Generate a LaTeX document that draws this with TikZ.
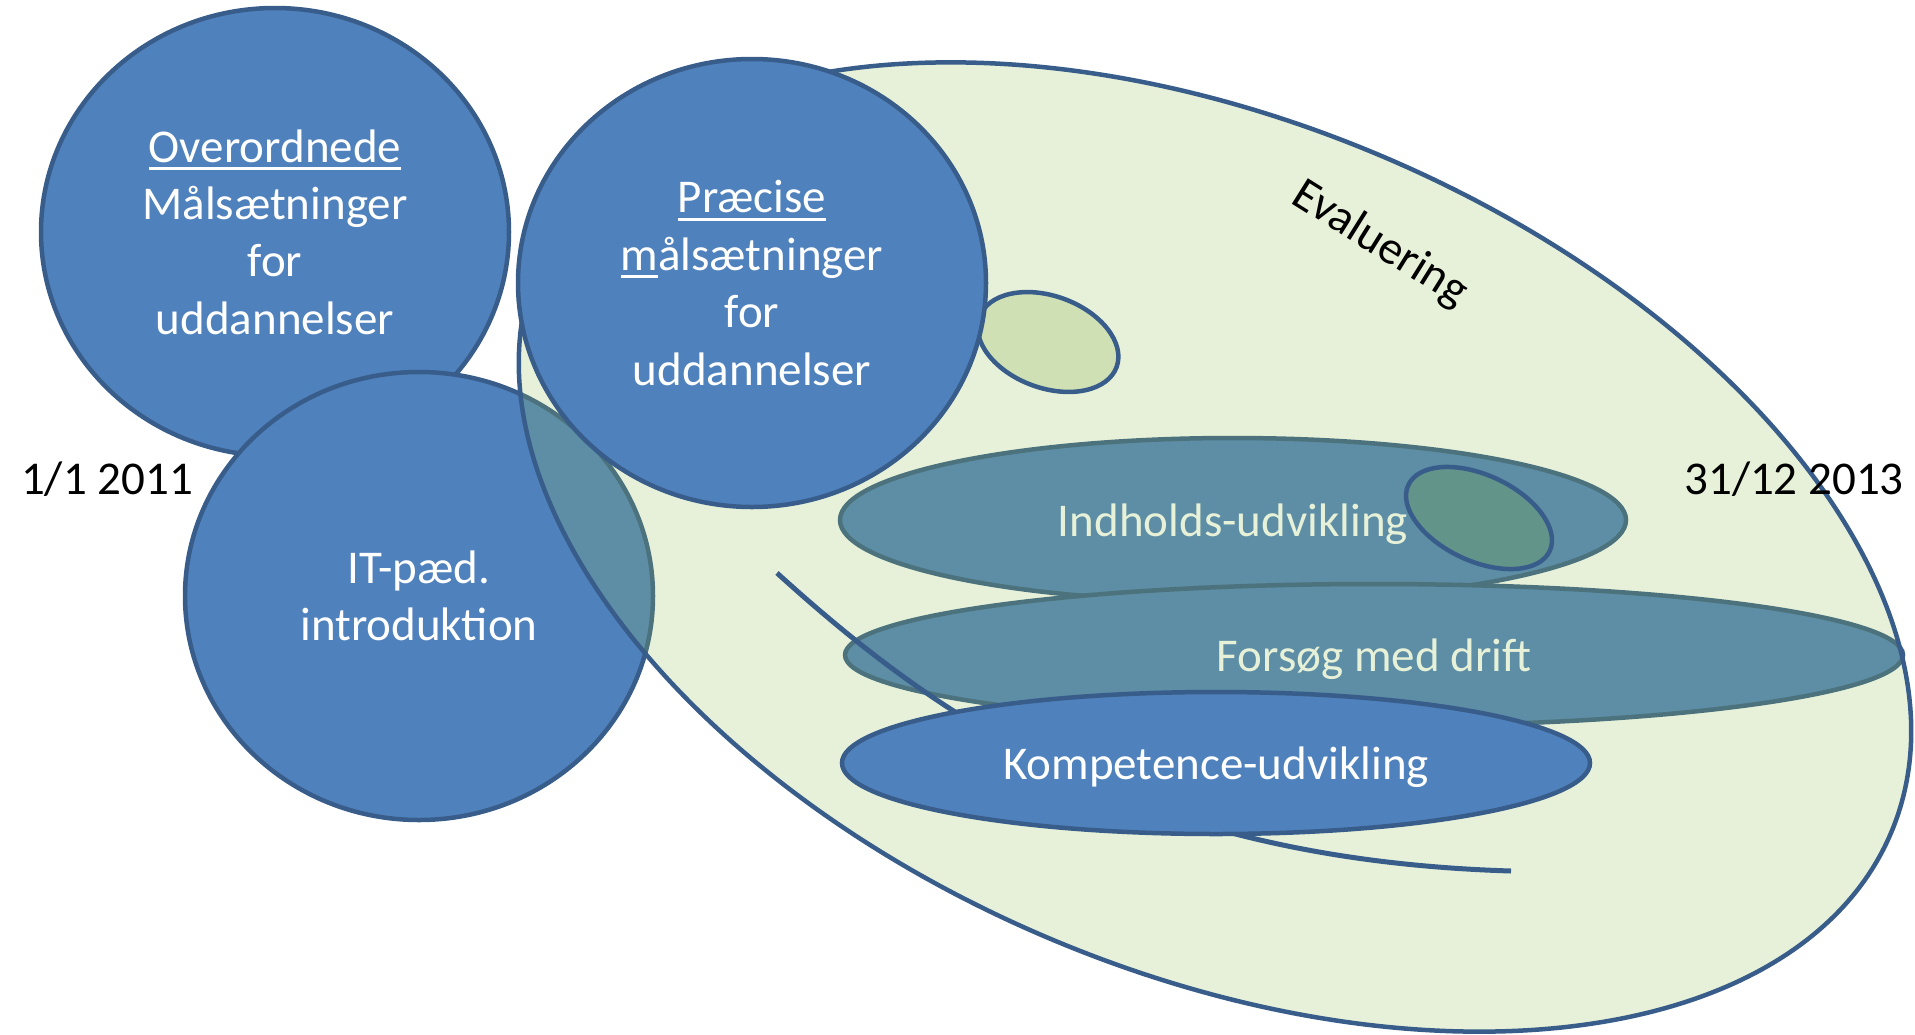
\documentclass[tikz,border=0pt]{standalone}
\usepackage{fontspec}
\setmainfont{Carlito}
\usetikzlibrary{shapes.geometric}
\definecolor{fillblue}{HTML}{4F81BD}
\definecolor{edgeblue}{HTML}{385D8A}
\definecolor{olive}{HTML}{92C050}
\definecolor{paleA}{HTML}{CFE0B5}
\definecolor{tealB}{HTML}{62948A}
\newcommand{\myul}[1]{\setbox0=\hbox{#1}\rlap{\rule[-8pt]{\wd0}{3pt}}#1}
\begin{document}
\begin{tikzpicture}[x=1pt,y=-1pt,
  bigtxt/.style={font=\fontsize{47}{57.4}\selectfont},
  blob/.style={ellipse, inner sep=0pt, draw=edgeblue, line width=4.5pt, fill=fillblue, text=white, align=center, bigtxt},
  flatblob/.style={blob, text depth=0pt},
  smallblob/.style={ellipse, inner sep=0pt, draw=edgeblue, line width=4.5pt},
  linkline/.style={draw=edgeblue, line width=5pt}
]
\useasboundingbox (0,0) rectangle (1915,1034);

\node[blob, minimum width=468pt, minimum height=448pt] (ov) at (275,232) {\myul{Overordnede}\\Målsætninger\\for\\uddannelser};
\node[blob, minimum width=468pt, minimum height=448pt] (it) at (419,596) {IT-pæd.\\introduktion};
\node[flatblob, minimum width=786pt, minimum height=164pt] (ind) at (1233,520) {Indholds-udvikling};
\node[flatblob, minimum width=1058pt, minimum height=142pt] (fors) at (1374,655) {Forsøg med drift};

\node[ellipse, inner sep=0pt, draw=edgeblue, line width=4.5pt, fill=olive, fill opacity=0.22,
  minimum width=1468pt, minimum height=850pt, rotate=-22.9] (eval) at (1215,547) {};

\node[smallblob, fill=paleA, minimum width=146pt, minimum height=92pt, rotate=-20] (s1) at (1048,342) {};
\node[blob, minimum width=468pt, minimum height=448pt] (pr) at (752,283) {\myul{Præcise}\\\myul{m}ålsætninger\\for\\uddannelser};
\node[smallblob, fill=tealB, minimum width=156pt, minimum height=86pt, rotate=-25] (s2) at (1479,518) {};

\coordinate (c1) at (777,573);
\coordinate (c2) at (1511,871);
\draw[linkline] (c1) .. controls (950,730) and (1150,860) .. (c2);

\node[flatblob, minimum width=748pt, minimum height=142pt] (komp) at (1216,763) {Kompetence-udvikling};

\node[bigtxt, rotate=-32] (evl) at (1380,244) {Evaluering};
\node[bigtxt] (d1) at (107,479) {1/1 2011};
\node[bigtxt] (d2) at (1794,479) {31/12 2013};
\end{tikzpicture}
\end{document}
